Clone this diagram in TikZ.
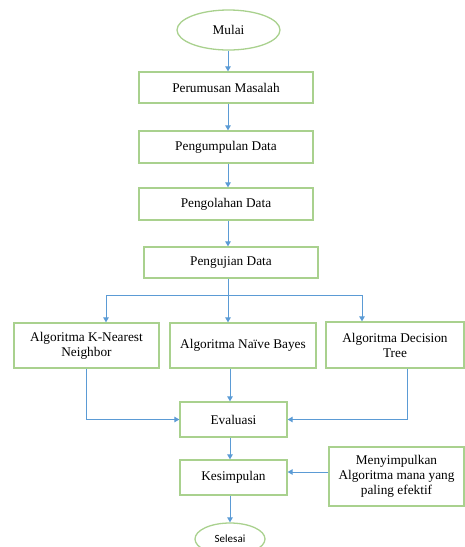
\documentclass[tikz,border=0pt]{standalone}
\usepackage{fontspec}
\setmainfont{Liberation Serif}
\newfontfamily\calibfont{Carlito}
\usetikzlibrary{arrows.meta,shapes.geometric}
\definecolor{boxgreen}{HTML}{A9D18E}
\definecolor{arrblue}{HTML}{5B9BD5}
\begin{document}
\begin{tikzpicture}[x=1pt,y=-1pt,
  box/.style={draw=boxgreen, line width=1.3pt, rectangle, align=center, inner sep=0pt,
    font=\fontsize{13.3}{15}\selectfont},
  term/.style={draw=boxgreen, line width=1.3pt, ellipse, inner sep=0pt},
  arr/.style={draw=arrblue, line width=1pt, -{Triangle[length=5pt,width=5.5pt]}},
  ln/.style={draw=arrblue, line width=1pt}]
\useasboundingbox (0,0) rectangle (465,547);
\clip (0,0) rectangle (465,547);
\node[term, minimum width=103pt, minimum height=40pt, font=\fontsize{13.3}{15}\selectfont] (mulai) at (228.5,30) {Mulai};
\node[box, minimum width=174pt, minimum height=31pt] (perum) at (226,87.5) {Perumusan Masalah};
\node[box, minimum width=174pt, minimum height=32pt] (kumpul) at (226,147) {Pengumpulan Data};
\node[box, minimum width=174pt, minimum height=32pt] (olah) at (226,204) {Pengolahan Data};
\node[box, minimum width=174pt, minimum height=31pt] (uji) at (231,262.5) {Pengujian Data};
\node[box, minimum width=145pt, minimum height=45pt] (knn) at (86.5,345.5) {Algoritma K-Nearest\\Neighbor};
\node[box, minimum width=146pt, minimum height=45pt] (nb) at (243,345.5) {Algoritma Naïve Bayes};
\node[box, minimum width=138pt, minimum height=46pt] (dt) at (395,345) {Algoritma Decision\\Tree};
\node[box, minimum width=107pt, minimum height=35pt] (eval) at (233.5,419.5) {Evaluasi};
\node[box, minimum width=107pt, minimum height=35pt] (kes) at (233.5,477.5) {Kesimpulan};
\node[box, minimum width=135pt, minimum height=59pt] (menyimp) at (396.5,476.5) {Menyimpulkan\\Algoritma mana yang\\paling efektif};
\node[term, minimum width=70pt, minimum height=32pt, font=\calibfont\fontsize{11}{13}\selectfont] (selesai) at (230,539) {Selesai};
\coordinate (split) at (228,295);
\coordinate (splitL) at (106,295);
\coordinate (splitR) at (362,295);
% main vertical flow
\draw[arr] (mulai.south -| split) -- (perum.north -| split);
\draw[arr] (perum.south -| split) -- (kumpul.north -| split);
\draw[arr] (kumpul.south -| split) -- (olah.north -| split);
\draw[arr] (olah.south -| split) -- (uji.north -| split);
\draw[arr] (uji.south -| split) -- (nb.north -| split);
\draw[ln] (splitL) -- (splitR);
\draw[arr] (splitL) -- (knn.north -| splitL);
\draw[arr] (splitR) -- (dt.north -| splitR);
% to evaluasi
\draw[arr] (knn.south) |- (eval.west);
\draw[arr] ([xshift=-13pt]nb.south) -- ([xshift=-3.5pt]eval.north);
\draw[arr] ([xshift=12pt]dt.south) |- (eval.east);
\draw[arr] ([xshift=-3.5pt]eval.south) -- ([xshift=-3.5pt]kes.north);
\draw[arr] ([yshift=4.5pt]menyimp.west) -- ([yshift=4.5pt]menyimp.west -| kes.east);
\draw[arr] ([xshift=-3.5pt]kes.south) -- (selesai.north);
\end{tikzpicture}
\end{document}
